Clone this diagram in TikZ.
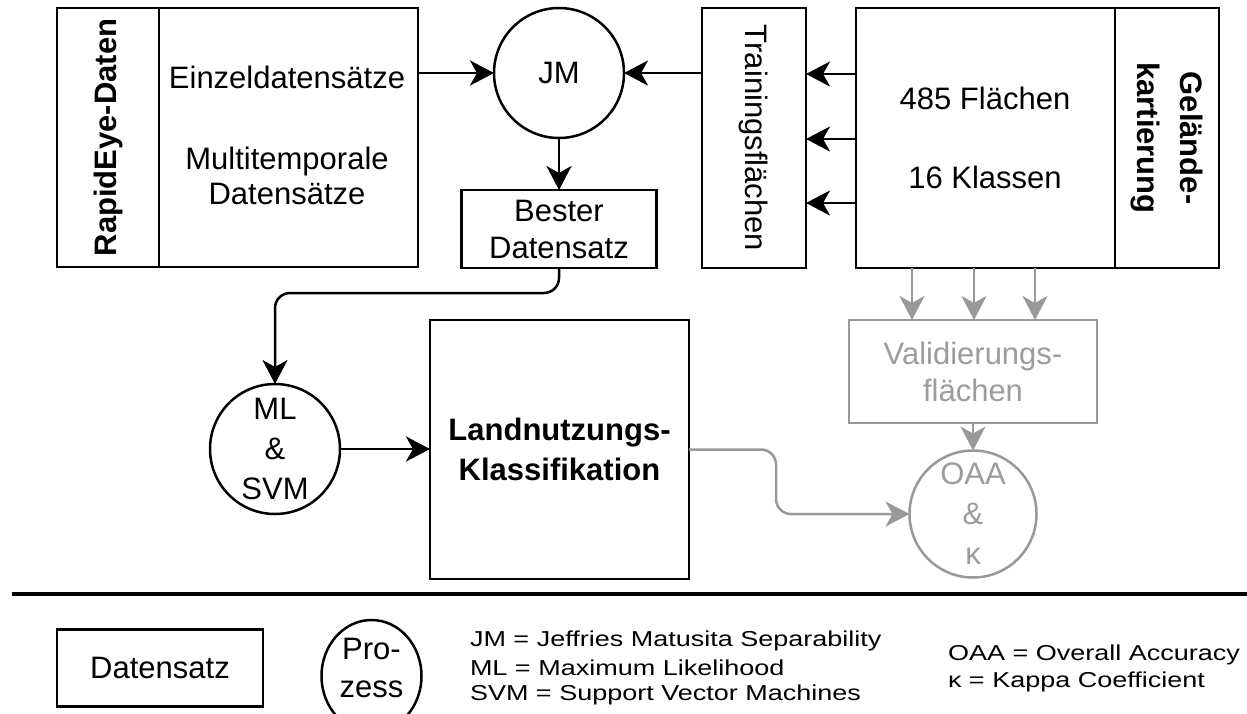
\documentclass[tikz,border=0pt]{standalone}
\usepackage{fontspec}
\setmainfont{Liberation Sans}
\usepackage{graphicx}
\usetikzlibrary{arrows.meta}
\definecolor{lgray}{HTML}{999999}
\definecolor{tgray}{HTML}{9C9C9C}
\newcommand{\legtxt}[1]{\scalebox{1}[0.8]{#1}}
\begin{document}
\begin{tikzpicture}[x=1pt,y=-1pt,
  every node/.style={font=\fontsize{31}{37}\selectfont, inner sep=0pt, outer sep=0pt},
  box/.style={draw, line width=2.5pt, rectangle},
  gbox/.style={draw=lgray, text=tgray, line width=2.5pt, rectangle},
  proc/.style={draw, line width=2.5pt, circle},
  gproc/.style={draw=lgray, text=tgray, line width=2.5pt, circle},
  arr/.style={-{Stealth[length=24pt,width=25pt,inset=7pt]}, line width=2.5pt},
  garr/.style={arr, draw=lgray, color=lgray},
  lbl/.style={font=\fontsize{31}{43}\selectfont\bfseries, align=center},
  leg/.style={font=\fontsize{27}{30}\selectfont, anchor=west}
]
\useasboundingbox (0,0) rectangle (1247,713);
\fill[white] (0,0) rectangle (1247,713);

% RapidEye block
\node[box, minimum width=102pt, minimum height=259pt] (rapidl) at (108,137.5) {};
\node[box, minimum width=259pt, minimum height=259pt] (rapidb) at (288.5,137.5) {};
\node[lbl, rotate=90] (rapidt) at (rapidl.center) {RapidEye-Daten};
\node (einz) at (287,77) {Einzeldatensätze};
\node[align=center, font=\fontsize{31}{35}\selectfont] (multi) at (287,176) {Multitemporale\\Datensätze};

% JM and best dataset
\node[proc, minimum size=130pt] (jm) at (559,73) {JM};
\node[box, minimum width=195pt, minimum height=78pt, align=center] (bester) at (559,229) {Bester\\Datensatz};

% Training areas
\node[box, minimum width=104pt, minimum height=260pt] (train) at (754,138) {};
\node[rotate=-90] (traint) at (train.center) {Trainingsflächen};

% Field mapping block
\node[box, minimum width=259pt, minimum height=260pt] (rb) at (985.5,138) {};
\node[box, minimum width=104pt, minimum height=260pt] (rl) at (1167,138) {};
\node (flaechen) at (985,98) {485 Flächen};
\node (klassen) at (985,177) {16 Klassen};
\node[lbl, rotate=-90] (rlt) at (rl.center) {Gelände-\\kartierung};

% Validation
\node[gbox, minimum width=248pt, minimum height=103pt, align=center] (valid) at (973,371.5) {Validierungs-\\flächen};
\node[gproc, minimum size=127pt, align=center, font=\fontsize{31}{40}\selectfont] (oaa) at (973,514) {OAA\\\&\\κ};

% Classification
\node[proc, minimum size=130pt, align=center, font=\fontsize{31}{40}\selectfont] (ml) at (275,449) {ML\\\&\\SVM};
\node[box, minimum width=259pt, minimum height=259pt, align=center, font=\fontsize{31}{40}\selectfont\bfseries] (land) at (559.5,449.5) {Landnutzungs-\\Klassifikation};

% Connectors
\draw[arr] (jm.west -| rapidb.east) -- (jm.west);
\draw[arr] (jm.east -| train.west) -- (jm.east);
\draw[arr] (jm.south) -- (bester.north);
\draw[arr] ([yshift=64pt]rb.west) -- ([yshift=64pt]train.east);
\draw[arr] ([yshift=-1pt]rb.west) -- ([yshift=-1pt]train.east);
\draw[arr] ([yshift=-65pt]rb.west) -- ([yshift=-65pt]train.east);
\draw[garr] ([xshift=-61pt]valid.north |- rb.south) -- ([xshift=-61pt]valid.north);
\draw[garr] ([xshift=1pt]valid.north |- rb.south) -- ([xshift=1pt]valid.north);
\draw[garr] ([xshift=62pt]valid.north |- rb.south) -- ([xshift=62pt]valid.north);
\draw[garr] (valid.south) -- (valid.south |- oaa.north);
\draw[arr, rounded corners=15pt] (bester.south) -- ++(0,25) -| (ml.north);
\draw[arr] (ml.east) -- (ml.east -| land.west);
\draw[garr, rounded corners=15pt] (land.east) -- ++(87,0) |- (oaa.west);

% Legend
\draw[line width=3.5pt] (12,594) -- (1247,594);
\node[box, minimum width=206pt, minimum height=77pt] (legbox) at (160,668) {Datensatz};
\draw[line width=2.5pt] (371.5,676) ellipse [x radius=50pt, y radius=56pt];
\node (pro) at (371.5,649) {Pro-};
\node (zess) at (371.5,689) {zess};
\node[leg] (legjm) at (470,641) {\legtxt{JM = Jeffries Matusita Separability}};
\node[leg] (legml) at (470,668) {\legtxt{ML = Maximum Likelihood}};
\node[leg] (legsvm) at (470,695) {\legtxt{SVM = Support Vector Machines}};
\node[leg] (legoaa) at (948,655) {\legtxt{OAA = Overall Accuracy}};
\node[leg] (legk) at (948,682) {\legtxt{κ = Kappa Coefficient}};
\end{tikzpicture}
\end{document}
